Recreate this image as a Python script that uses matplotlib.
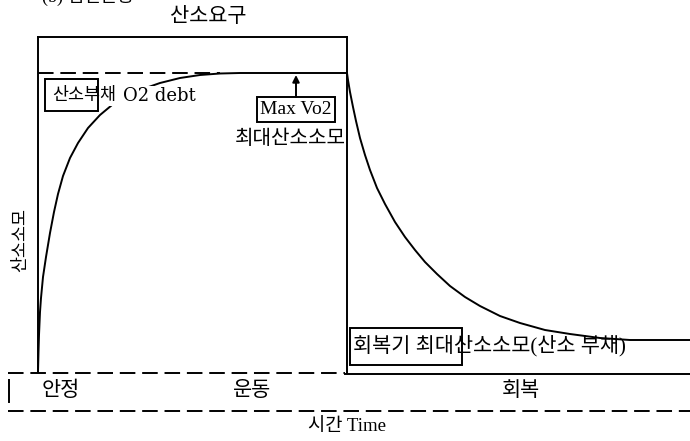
import matplotlib
matplotlib.use('Agg')
import matplotlib.pyplot as plt
from matplotlib.patches import Rectangle

plt.rcParams['font.family'] = ['Liberation Serif', 'Noto Sans CJK KR', 'DejaVu Sans']

# ---- 데이터 (그림 좌표, 픽셀 단위로 읽음) ----
# 운동기 산소소모 상승 곡선
rise_t = [38, 38.5, 39, 40, 41, 43, 46, 50, 54, 58, 63, 70, 78, 88, 100, 112,
          125, 140, 160, 180, 200, 220, 240, 347]
rise_vo2 = [372, 352, 335, 312, 298, 277, 257, 233, 212, 194, 176, 158, 143, 128, 115, 105,
            97, 90, 83, 78, 75, 73.5, 73, 73]

# 회복기 산소소모 감소 곡선
rec_t = [347, 348, 350, 353, 356, 360, 365, 370, 377, 385, 395, 405, 415, 425,
         437, 450, 465, 480, 500, 520, 545, 570, 600, 630, 690]
rec_vo2 = [73, 80, 92, 107, 121, 138, 155, 170, 188, 204, 222, 237, 250, 262,
           274, 286, 297, 306, 316, 323, 330, 334, 338, 340, 340]

# 구간 경계
demand_left, demand_right = 38, 347
demand_top = 37
max_level = 73
band_top, band_bottom = 373, 411
band_left, band_right = 8, 690

phase_labels = ['안정', '운동', '회복']
phase_x = [61, 252, 521]

fig = plt.figure(figsize=(6.9, 4.41), dpi=100)
ax = fig.add_axes([0, 0, 1, 1])
ax.set_xlim(0, 690)
ax.set_ylim(441, 0)
ax.axis('off')

lw = 1.4
dash = (0, (8, 3.5))
k = 'black'

# 산소요구 박스
ax.plot([demand_left, demand_left], [demand_top, band_top - 1], color=k, lw=lw)
ax.plot([demand_left, demand_right], [demand_top, demand_top], color=k, lw=lw)
ax.plot([demand_right, demand_right], [demand_top, band_top], color=k, lw=lw)

# 최대 수준 점선
ax.plot([demand_left, 220], [max_level, max_level], color=k, lw=lw, linestyle=dash)

# 곡선
ax.plot(rise_t, rise_vo2, color=k, lw=lw, zorder=2)
ax.plot(rec_t, rec_vo2, color=k, lw=lw, zorder=2)

# 하단 구간 띠
ax.plot([band_left, demand_right - 2], [band_top, band_top], color=k, lw=lw, linestyle=dash)
ax.plot([demand_right - 2, band_right], [band_top + 1, band_top + 1], color=k, lw=lw)
ax.plot([band_left, band_right], [band_bottom, band_bottom], color=k, lw=lw, linestyle=dash)
ax.plot([9, 9], [380, 402], color=k, lw=lw)

for lab, x in zip(phase_labels, phase_x):
    ax.text(x, 391, lab, fontsize=15, ha='center', va='center')

# 텍스트
ax.text(42, 6, '(b) 점진운동', fontsize=13, ha='left', va='bottom')
ax.text(208, 18, '산소요구', fontsize=15, ha='center', va='center')
ax.text(21, 240, '산소소모', fontsize=12.5, rotation=90, ha='center', va='center')
ax.text(347, 427, '시간 Time', fontsize=13.5, ha='center', va='center')

# 산소부채 O2 debt
ax.add_patch(Rectangle((100, 84), 22, 22, facecolor='white', edgecolor='none', zorder=3))
ax.text(52, 96, '산소부채', fontsize=12.5, ha='left', va='center', zorder=3,
        bbox=dict(facecolor='white', edgecolor='none', pad=1))
ax.text(123, 96, 'O2 debt', fontsize=13, family=['DejaVu Serif'], ha='left', va='center',
        zorder=3, bbox=dict(facecolor='white', edgecolor='none', pad=1))
ax.add_patch(Rectangle((45, 79), 53, 32, fill=False, edgecolor=k, lw=lw, zorder=4))

# Max Vo2
ax.add_patch(Rectangle((257, 97), 78, 25, facecolor='white', edgecolor=k, lw=lw, zorder=3))
ax.text(296, 110, 'Max Vo2', fontsize=14, ha='center', va='center', zorder=4)
ax.annotate('', xy=(296, 75), xytext=(296, 97),
            arrowprops=dict(arrowstyle='-|>', color=k, lw=lw, mutation_scale=10,
                            shrinkA=0, shrinkB=0))
ax.text(290, 140, '최대산소소모', fontsize=14.5, ha='center', va='center', zorder=4)

# 회복기 박스
ax.text(353, 346, '회복기 최대산소소모(산소 부채)', fontsize=15, ha='left', va='center', zorder=3)
ax.add_patch(Rectangle((350, 328), 112, 37, fill=False, edgecolor=k, lw=lw, zorder=4))

fig.savefig('out.png', dpi=100)
